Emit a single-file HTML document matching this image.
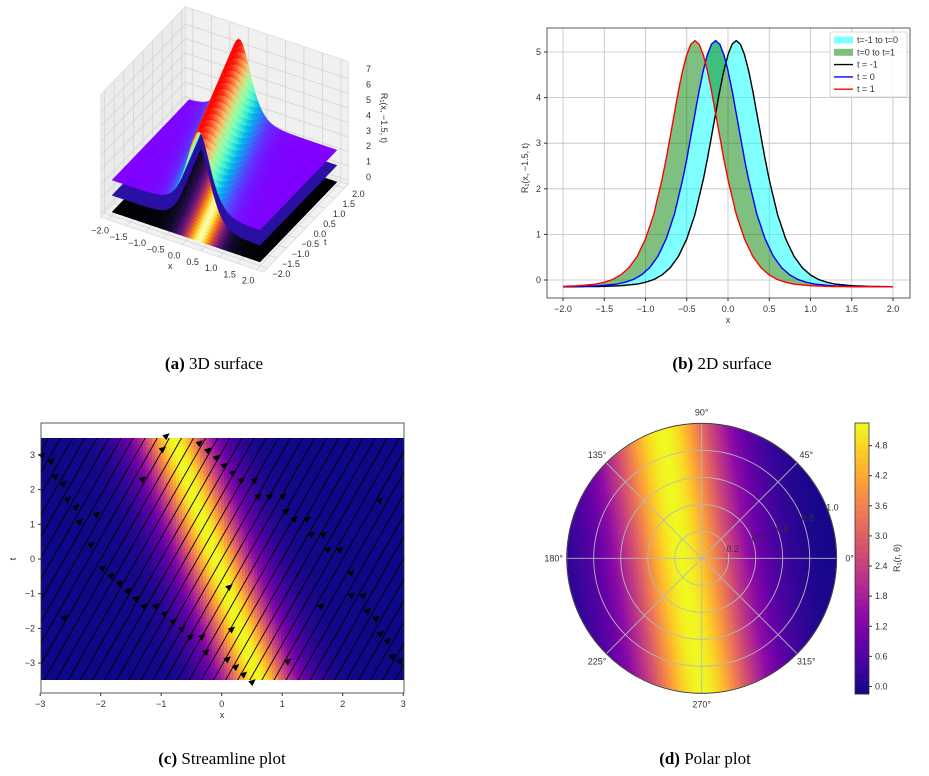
<!DOCTYPE html>
<html><head><meta charset="utf-8">
<style>
body{margin:0;background:#fff;}
svg{display:block;font-family:"Liberation Sans",sans-serif;}
.cap{font-family:"Liberation Serif",serif;font-size:17px;fill:#000;}
.tk{font-size:9px;fill:#333;}
</style></head>
<body>
<svg id="fig" width="929" height="776" viewBox="0 0 929 776" xmlns="http://www.w3.org/2000/svg">
<defs>
<clipPath id="clipC"><rect x="41" y="438" width="363" height="242"/></clipPath>
<clipPath id="clipD"><circle cx="701.7" cy="558.3" r="135"/></clipPath>
<clipPath id="clipB"><rect x="547" y="28" width="363" height="270"/></clipPath>
</defs>
<g id="pa"></g>
<g id="pb"></g>
<g id="pc"></g>
<g id="pd"></g>
<text class="cap" x="214" y="369" text-anchor="middle"><tspan font-weight="bold">(a)</tspan> 3D surface</text>
<text class="cap" x="722" y="369" text-anchor="middle"><tspan font-weight="bold">(b)</tspan> 2D surface</text>
<text class="cap" x="222" y="764" text-anchor="middle"><tspan font-weight="bold">(c)</tspan> Streamline plot</text>
<text class="cap" x="705" y="764" text-anchor="middle"><tspan font-weight="bold">(d)</tspan> Polar plot</text>
</svg>
<script>
// ---- data ----
const profileDx = [0,0.05,0.1,0.15,0.2,0.25,0.3,0.35,0.4,0.5,0.6,0.7,0.8,0.9,1.0,1.1,1.2,1.4,1.6,2.0,5.0];
const profileY  = [5.25,5.17,4.94,4.59,4.15,3.65,3.15,2.65,2.20,1.44,0.90,0.52,0.27,0.11,0.01,-0.05,-0.09,-0.125,-0.14,-0.15,-0.15];
const curveT = [-1,0,1];
const curveCenters = [0.1,-0.15,-0.4];
const curveColors = ['#000000','#0000ff','#ff0000'];
const bXTicks = [-2.0,-1.5,-1.0,-0.5,0.0,0.5,1.0,1.5,2.0];
const bYTicks = [0,1,2,3,4,5];
const ridgeT = [-2,2];
const ridgeC = [0.35,-0.65];
const surfTicks = [-2.0,-1.5,-1.0,-0.5,0.0,0.5,1.0,1.5,2.0];
const zTicks = [0,1,2,3,4,5,6,7];
const streamCenterT = [-3.5,3.5];
const streamCenterX = [0.6,-0.8];
const streamWidth = [1.3];
const cXTicks = [-3,-2,-1,0,1,2,3];
const cYTicks = [-3,-2,-1,0,1,2,3];
const arrowX = [-0.91,-0.97,-1.30,-0.36,-0.22,-0.08,0.05,0.19,0.33,0.55,0.61,0.80,1.02,1.07,1.21,1.42,1.49,1.69,1.76,1.96,2.15,2.15,2.35,2.42,2.56,2.63,2.75,2.83,2.96,2.62,1.65,1.10,-2.96,-2.81,-2.74,-2.61,-2.54,-2.40,-2.34,-2.06,-2.15,-1.96,-1.82,-1.68,-1.54,-1.41,-1.27,-1.08,-0.93,-0.79,-0.65,-0.51,-0.32,-0.25,-2.59,0.13,0.17,0.10,0.24,0.37,0.51];
const arrowT = [3.55,3.17,2.31,3.35,3.14,2.93,2.71,2.49,2.28,2.28,1.82,1.82,1.82,1.39,1.16,1.16,0.72,0.72,0.28,0.28,-0.39,-1.04,-1.04,-1.49,-1.71,-2.14,-2.35,-2.80,-2.93,1.70,-1.35,-2.94,3.00,2.83,2.39,2.18,1.73,1.51,1.08,1.29,0.42,-0.25,-0.47,-0.69,-0.91,-1.13,-1.35,-1.35,-1.57,-1.79,-2.01,-2.23,-2.23,-2.67,-1.68,-0.80,-2.02,-2.88,-3.10,-3.32,-3.54];
const polarCenterY = [-1,1];
const polarCenterX = [0.0,-0.3];
const polarRings = [0.2,0.4,0.6,0.8,1.0];
const polarAngles = [0,45,90,135,180,225,270,315];
const cbarTicks = [0.0,0.6,1.2,1.8,2.4,3.0,3.6,4.2,4.8];

// ---- helpers ----
const NS='http://www.w3.org/2000/svg';
function mk(parent,tag,attrs,text){const e=document.createElementNS(NS,tag);for(const k in attrs)e.setAttribute(k,attrs[k]);if(text!==undefined)e.textContent=text;parent.appendChild(e);return e;}
function interp(xs,ys,x){if(x<=xs[0])return ys[0];for(let i=1;i<xs.length;i++){if(x<=xs[i]){const f=(x-xs[i-1])/(xs[i]-xs[i-1]);return ys[i-1]+f*(ys[i]-ys[i-1]);}}return ys[ys.length-1];}
function prof(d){return interp(profileDx,profileY,Math.abs(d));}
function hex(c){return [parseInt(c.substr(1,2),16),parseInt(c.substr(3,2),16),parseInt(c.substr(5,2),16)];}
function cmap(stops,v){v=Math.max(0,Math.min(1,v));const n=stops.length-1;const i=Math.min(n-1,Math.floor(v*n));const f=v*n-i;const a=hex(stops[i]),b=hex(stops[i+1]);return 'rgb('+a.map((x,k)=>Math.round(x+(b[k]-x)*f)).join(',')+')';}
const PLASMA=['#0d0887','#41049d','#6a00a8','#8f0da4','#b12a90','#cc4778','#e16462','#f2844b','#fca636','#fcce25','#f0f921'];
const INFERNO=['#000004','#160b39','#420a68','#6a176e','#932667','#bc3754','#dd513a','#f37819','#fca50a','#f6d746','#fcffa4'];
function rainbow(v){v=Math.max(0,Math.min(1,v));const r=Math.min(1,Math.abs(2*v-0.5)),g=Math.sin(Math.PI*v),b=Math.cos(Math.PI*v/2);return 'rgb('+Math.round(r*255)+','+Math.round(g*255)+','+Math.round(b*255)+')';}
const fmin=-0.15,fmax=5.25;

// ================= Panel A (3D) =================
(function(){
const g=document.getElementById('pa');
function P(x,t,z){return [224.5+37*x+19.25*t, 197+12.5*x-20*t-14.5*z];}
function pts(arr){return arr.map(p=>p[0].toFixed(1)+','+p[1].toFixed(1)).join(' ');}
const L=2.2,z0=-0.25,z1=8.2;
const floorP=mk(g,'polygon',{points:pts([P(-L,-L,z0),P(L,-L,z0),P(L,L,z0),P(-L,L,z0)]),fill:'#f2f2f2',stroke:'#e0e0e0'});


const leftP=mk(g,'polygon',{points:pts([P(-L,-L,z0),P(-L,L,z0),P(-L,L,z1),P(-L,-L,z1)]),fill:'#ebebeb',stroke:'#e0e0e0'});


const backP=mk(g,'polygon',{points:pts([P(-L,L,z0),P(L,L,z0),P(L,L,z1),P(-L,L,z1)]),fill:'#f0f0f0',stroke:'#e0e0e0'});


const grid=mk(g,'g',{stroke:'#d4d4d4','stroke-width':0.8,fill:'none'});


surfTicks.forEach(v=>{
 let a=P(v,-L,z0),b=P(v,L,z0),c=P(v,L,z1);mk(grid,'polyline',{points:pts([a,b,c])});
 a=P(-L,v,z1);b=P(-L,v,z0);c=P(L,v,z0);mk(grid,'polyline',{points:pts([a,b,c])});
});
zTicks.forEach(v=>{mk(grid,'polyline',{points:pts([P(-L,-L,v),P(-L,L,v),P(L,L,v)])});});
const fl=mk(g,'g',{});


const NX=60,NT=30;
for(let i=0;i<NX;i++)for(let j=0;j<NT;j++){
 const x0=-2+4*i/NX,x1=-2+4*(i+1)/NX,t0=-2+4*j/NT,t1=-2+4*(j+1)/NT;
 const f=prof((x0+x1)/2-interp(ridgeT,ridgeC,(t0+t1)/2));
 const col=cmap(INFERNO,(f-fmin)/(fmax-fmin));
 mk(fl,'polygon',{points:pts([P(x0,t0,0),P(x1,t0,0),P(x1,t1,0),P(x0,t1,0)]),fill:col,stroke:col,'stroke-width':0.4});
}
function surface(name,off,colorFn){
 const sg=mk(g,'g',{});
 
 
 const quads=[];
 for(let i=0;i<NX;i++)for(let j=0;j<NT;j++){
  const x0=-2+4*i/NX,x1=-2+4*(i+1)/NX,t0=-2+4*j/NT,t1=-2+4*(j+1)/NT;
  const z=(x,t)=>prof(x-interp(ridgeT,ridgeC,t))+off;
  const zc=prof((x0+x1)/2-interp(ridgeT,ridgeC,(t0+t1)/2));
  quads.push({k:12.5*(x0+x1)/2-20*(t0+t1)/2,p:[P(x0,t0,z(x0,t0)),P(x1,t0,z(x1,t0)),P(x1,t1,z(x1,t1)),P(x0,t1,z(x0,t1))],c:colorFn(zc)});
 }
 quads.sort((a,b)=>a.k-b.k);
 quads.forEach(q=>mk(sg,'polygon',{points:pts(q.p),fill:q.c,stroke:q.c,'stroke-width':0.4}));
}
surface('middle-surface',1.3,()=> '#2a10a4');
surface('top-surface',2.35,f=>rainbow((f-fmin)/(fmax-fmin)));
surfTicks.forEach(v=>{const p=P(v,-L,z0);
 const tx=mk(g,'text',{class:'tk',x:p[0]-8,y:p[1]+14,'text-anchor':'middle','font-size':'7'},v.toFixed(1).replace('-','\u2212'));
 
 const q=P(L,v,z0);
 const ty=mk(g,'text',{class:'tk',x:q[0]+14,y:q[1]+9,'text-anchor':'middle','font-size':'7'},v.toFixed(1).replace('-','\u2212'));
 
});
zTicks.forEach(v=>{const tz=mk(g,'text',{class:'tk',x:366,y:180-15.4*v,'font-size':'7'},String(v));
 });
const xl=mk(g,'text',{class:'tk',x:168,y:269,'font-size':'8'},'x');
const tl=mk(g,'text',{class:'tk',x:324,y:245,'font-size':'8'},'t');
const zl=mk(g,'text',{class:'tk',x:0,y:0,'font-size':'7',transform:'translate(381,118) rotate(90)','text-anchor':'middle'},'R\u2081(x, \u22121.5, t)');

})();

// ================= Panel B =================
(function(){
const g=document.getElementById('pb');
const X=x=>563+(x+2)*82.5, Y=y=>280-y*45.6;
const grid=mk(g,'g',{stroke:'#b0b0b0','stroke-width':0.8,opacity:0.8});

bXTicks.forEach(v=>mk(grid,'line',{x1:X(v),x2:X(v),y1:28,y2:298}));
bYTicks.forEach(v=>mk(grid,'line',{x1:547,x2:910,y1:Y(v),y2:Y(v)}));
const xs=[];for(let i=0;i<=400;i++)xs.push(-2+i*0.01);
const cv=curveCenters.map(c=>xs.map(x=>prof(x-c)));
function band(a,b,col,name){
 let d='M'+xs.map((x,i)=>X(x).toFixed(1)+','+Y(a[i]).toFixed(1)).join('L');
 d+='L'+xs.slice().reverse().map((x,i)=>X(x).toFixed(1)+','+Y(b[xs.length-1-i]).toFixed(1)).join('L')+'Z';
 const p=mk(g,'path',{d:d,fill:col,'fill-opacity':0.5,'clip-path':'url(#clipB)'});
 
}
band(cv[0],cv[1],'#00ffff','fill-t-1-to-0');
band(cv[1],cv[2],'#008000','fill-t0-to-1');
cv.forEach((c,k)=>{const p=mk(g,'polyline',{points:xs.map((x,i)=>X(x).toFixed(1)+','+Y(c[i]).toFixed(1)).join(' '),fill:'none',stroke:curveColors[k],'stroke-width':1.4,'stroke-linejoin':'round'});
 });
const box=mk(g,'rect',{x:547,y:28,width:363,height:270,fill:'none',stroke:'#333','stroke-width':0.8});

bXTicks.forEach(v=>{mk(g,'line',{x1:X(v),x2:X(v),y1:298,y2:301,stroke:'#333'});
 const t=mk(g,'text',{class:'tk',x:X(v),y:312,'text-anchor':'middle'},v.toFixed(1).replace('-','\u2212'));
 });
bYTicks.forEach(v=>{mk(g,'line',{x1:544,x2:547,y1:Y(v),y2:Y(v),stroke:'#333'});
 const t=mk(g,'text',{class:'tk',x:541,y:Y(v)+3,'text-anchor':'end'},String(v));
 });
const xl=mk(g,'text',{class:'tk',x:728,y:323,'text-anchor':'middle'},'x');
const yl=mk(g,'text',{class:'tk',x:0,y:0,transform:'translate(528,168) rotate(-90)','text-anchor':'middle'},'R\u2081(x, \u22121.5, t)');

const lg=mk(g,'g',{});
mk(lg,'rect',{x:830,y:32,width:77,height:65,fill:'#fff','fill-opacity':0.85,stroke:'#ccc','stroke-width':0.8,rx:2});
const items=[['patch','#00ffff','t=-1 to t=0'],['patch','#008000','t=0 to t=1'],['line','#000','t = -1'],['line','#0000ff','t = 0'],['line','#ff0000','t = 1']];
items.forEach((it,i)=>{const y=40+i*12.3;
 if(it[0]==='patch')mk(lg,'rect',{x:834,y:y-3.5,width:19,height:7,fill:it[1],'fill-opacity':0.5});
 else mk(lg,'line',{x1:834,x2:853,y1:y,y2:y,stroke:it[1],'stroke-width':1.4});
 const t=mk(lg,'text',{class:'tk',x:857,y:y+3,'font-size':'8.5'},it[2]);
 });
})();

// ================= Panel C =================
(function(){
const g=document.getElementById('pc');
const X=x=>221.7+x*60.5, Y=t=>559-t*34.7;
const hm=mk(g,'g',{'clip-path':'url(#clipC)'});
const cs=3;
for(let py=438;py<680;py+=cs)for(let px=41;px<404;px+=cs){
 const x=(px+cs/2-221.7)/60.5,t=(559-(py+cs/2))/34.7;
 const f=prof((x-interp(streamCenterT,streamCenterX,t))/streamWidth[0]);
 mk(hm,'rect',{x:px,y:py,width:cs+0.3,height:cs+0.3,fill:cmap(PLASMA,(f-fmin)/(fmax-fmin))});
}
const sl=mk(g,'g',{stroke:'#000','stroke-width':0.9,'clip-path':'url(#clipC)'});

for(let x0=-4.4;x0<=4.4;x0+=0.2){mk(sl,'line',{x1:X(x0-3.6/3.07),y1:Y(-3.6),x2:X(x0+3.6/3.07),y2:Y(3.6)});}
const ar=mk(g,'g',{fill:'#000'});
arrowX.forEach((x,i)=>{const a=mk(ar,'polygon',{points:'4,0 -3,-3.2 -3,3.2',transform:'translate('+X(x).toFixed(1)+','+Y(arrowT[i]).toFixed(1)+') rotate(-40)'});
 });
const box=mk(g,'rect',{x:41,y:423,width:363,height:270,fill:'none',stroke:'#333','stroke-width':0.8});

cXTicks.forEach(v=>{mk(g,'line',{x1:X(v),x2:X(v),y1:693,y2:696,stroke:'#333'});
 const t=mk(g,'text',{class:'tk',x:X(v),y:707,'text-anchor':'middle'},String(v).replace('-','\u2212'));
 });
cYTicks.forEach(v=>{mk(g,'line',{x1:38,x2:41,y1:Y(v),y2:Y(v),stroke:'#333'});
 const t=mk(g,'text',{class:'tk',x:35,y:Y(v)+3,'text-anchor':'end'},String(v).replace('-','\u2212'));
 });
const xl=mk(g,'text',{class:'tk',x:222,y:718,'text-anchor':'middle'},'x');
const yl=mk(g,'text',{class:'tk',x:0,y:0,transform:'translate(16,559) rotate(-90)','text-anchor':'middle'},'t');
})();

// ================= Panel D =================
(function(){
const g=document.getElementById('pd');
const cx=701.7,cy=558.3,R=135;
const hm=mk(g,'g',{'clip-path':'url(#clipD)'});
const cs=3;
for(let py=cy-R;py<cy+R;py+=cs)for(let px=cx-R;px<cx+R;px+=cs){
 const x=(px+cs/2-cx)/R,y=(cy-(py+cs/2))/R;
 if(x*x+y*y>1.06)continue;
 const f=prof(x-interp(polarCenterY,polarCenterX,y));
 mk(hm,'rect',{x:px.toFixed(1),y:py.toFixed(1),width:cs+0.3,height:cs+0.3,fill:cmap(PLASMA,(f-fmin)/(fmax-fmin))});
}
const gr=mk(g,'g',{stroke:'#b8b8b8','stroke-width':0.9,fill:'none'});
polarRings.forEach(r=>mk(gr,'circle',{cx:cx,cy:cy,r:r*R}));
polarAngles.forEach(a=>{const rad=a*Math.PI/180;mk(gr,'line',{x1:cx,y1:cy,x2:cx+R*Math.cos(rad),y2:cy-R*Math.sin(rad)});});
const oc=mk(g,'circle',{cx:cx,cy:cy,r:R,fill:'none',stroke:'#333','stroke-width':0.8});
polarAngles.forEach(a=>{const rad=a*Math.PI/180;const t=mk(g,'text',{class:'tk',x:cx+(R+13)*Math.cos(rad),y:cy-(R+11)*Math.sin(rad)+3,'text-anchor':'middle'},a+'\u00b0');
 });
polarRings.forEach(r=>{const rad=22.5*Math.PI/180;const t=mk(g,'text',{class:'tk',x:cx+r*R*Math.cos(rad)+6,y:cy-r*R*Math.sin(rad)+4,fill:'#000','text-anchor':'middle'},r.toFixed(1));
 });
const cb=mk(g,'g',{});
const top=423,bot=694,Yc=v=>bot-(v-fmin)/(fmax-fmin)*(bot-top);
for(let i=0;i<40;i++){const v0=fmin+(fmax-fmin)*i/40;mk(cb,'rect',{x:855,y:Yc(v0+(fmax-fmin)/40),width:14,height:(bot-top)/40+0.4,fill:cmap(PLASMA,(i+0.5)/40)});}
mk(cb,'rect',{x:855,y:top,width:14,height:bot-top,fill:'none',stroke:'#333','stroke-width':0.8});
cbarTicks.forEach(v=>{mk(cb,'line',{x1:869,x2:872,y1:Yc(v),y2:Yc(v),stroke:'#333'});
 const t=mk(cb,'text',{class:'tk',x:875,y:Yc(v)+3},v.toFixed(1));});
const cl=mk(cb,'text',{class:'tk',x:0,y:0,transform:'translate(900,558) rotate(-90)','text-anchor':'middle'},'R\u2081(r, \u03b8)');

})();
</script>
</body></html>
